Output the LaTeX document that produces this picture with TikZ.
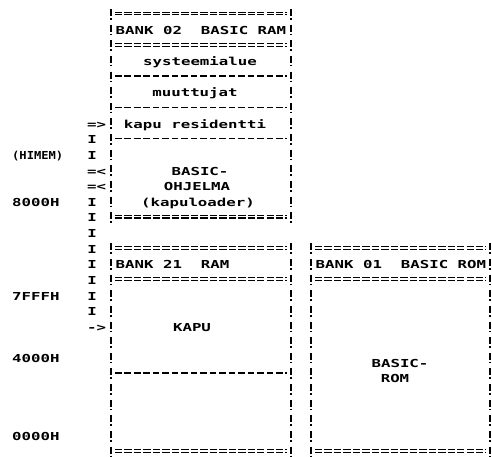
\documentclass[tikz,border=0pt]{standalone}
\usepackage{fontspec}
\newfontfamily\dotfont[FakeStretch=1.43]{DejaVu Sans Mono Bold}
\tikzset{
  txt/.style={font=\dotfont\fontsize{11}{11}\selectfont, inner sep=0pt, text height=8pt, text depth=0pt, yshift=-1.3pt},
  vbar/.style={line width=1.5pt, dash pattern=on 7pt off 2pt on 1.6pt off 5.03pt},
  eqline/.style={double, double distance=1.6pt, line width=1.1pt, dash pattern=on 7.4pt off 2.07pt},
  mline/.style={line width=1.3pt, dash pattern=on 6.6pt off 2.87pt},
}
\begin{document}
\begin{tikzpicture}[x=1pt,y=-15.63pt]
\useasboundingbox (0,0) rectangle (492,29.175);
\begin{scope}[yshift=-13.5pt]
% box corners
\coordinate (ATL) at (111,0);  \coordinate (ATR) at (291,0);
\coordinate (ABL) at (111,13); \coordinate (ABR) at (291,13);
\coordinate (BTL) at (111,15); \coordinate (BTR) at (291,15);
\coordinate (BBL) at (111,28); \coordinate (BBR) at (291,28);
\coordinate (CTL) at (311,15); \coordinate (CTR) at (490,15);
\coordinate (CBL) at (311,28); \coordinate (CBR) at (490,28);
% vertical borders
\foreach \t/\b in {ATL/ABL,ATR/ABR,BTL/BBL,BTR/BBR,CTL/CBL,CTR/CBR}
  \draw[vbar] ([yshift=4.5pt]\t) -- ([yshift=-6.3pt]\b);
% horizontal separators
\foreach \r in {0,2,13} \draw[eqline] (115,\r) -- (287,\r);
\foreach \r in {4,6,8} \draw[mline] (115,\r) -- (287,\r);
\foreach \r in {15,17,28} \draw[eqline] (115,\r) -- (287,\r);
\draw[mline] (115,23) -- (287,23);
\foreach \r in {15,17,28} \draw[eqline] (315,\r) -- (486,\r);
% texts of bank 02
\node[txt,anchor=west] (b02) at (115.5,1) {BANK 02\ \ BASIC RAM};
\node[txt] (sys) at (200,3) {systeemialue};
\node[txt] (muu) at (195,5) {muuttujat};
\node[txt] (res) at (195,7) {kapu residentti};
\node[txt] (bas) at (200,10) {BASIC-};
\node[txt] (ohj) at (197,11) {OHJELMA};
\node[txt] (ldr) at (198,12) {(kapuloader)};
% bank 21
\node[txt,anchor=west] (b21) at (115.5,16) {BANK 21\ \ RAM};
\node[txt] (kapu) at (192,20) {KAPU};
% bank 01
\node[txt,anchor=west] (b01) at (315.5,16) {BANK 01\ \ BASIC ROM};
\node[txt] (brom1) at (400,22.3) {BASIC-};
\node[txt] (brom2) at (395,23.3) {ROM};
% left column
\node[txt,anchor=east] (ar1) at (106.3,7) {=>};
\node[txt,anchor=east] (ar2) at (106.3,10) {=<};
\node[txt,anchor=east] (ar3) at (106.3,11) {=<};
\node[txt,anchor=east] (ar4) at (106.3,20) {->};
\foreach \r in {8,9,12,13,14,15,16,17,18,19} \node[txt] (I\r) at (92,\r) {I};
\node[txt,anchor=west] (himem) at (12,9) {\scalebox{0.77}[1]{(HIMEM)}};
\node[txt,anchor=west] (a8000) at (12,12) {8000H};
\node[txt,anchor=west] (a7fff) at (12,18) {7FFFH};
\node[txt,anchor=west] (a4000) at (12,22) {4000H};
\node[txt,anchor=west] (a0000) at (12,27) {0000H};
\end{scope}
\end{tikzpicture}
\end{document}
